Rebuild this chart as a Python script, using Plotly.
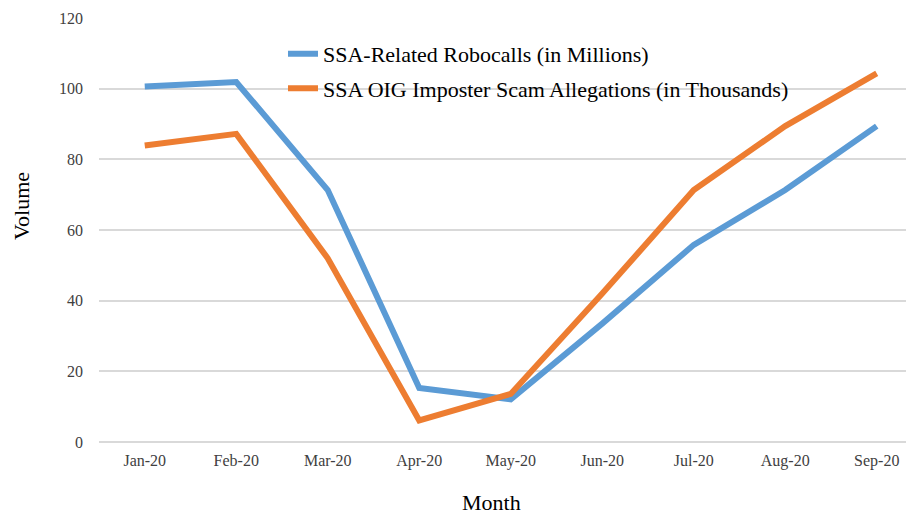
import plotly.graph_objects as go

months = ["Jan-20", "Feb-20", "Mar-20", "Apr-20", "May-20", "Jun-20", "Jul-20", "Aug-20", "Sep-20"]
robocalls = [100.6, 101.9, 71.3, 15.3, 12.1, 33.5, 55.8, 71.3, 89.4]
allegations = [83.9, 87.2, 52.0, 6.1, 13.6, 42.0, 71.3, 89.4, 104.3]
y_ticks = [0, 20, 40, 60, 80, 100, 120]

serif = "Liberation Serif, Times New Roman, serif"

fig = go.Figure()
fig.add_trace(go.Scatter(
    x=months, y=robocalls, mode="lines",
    name="SSA-Related Robocalls (in Millions)",
    line=dict(color="#5B9BD5", width=6),
    legendgroup="a",
))
fig.add_trace(go.Scatter(
    x=months, y=allegations, mode="lines",
    name="SSA OIG Imposter Scam Allegations (in Thousands)",
    line=dict(color="#ED7D31", width=6),
    legendgroup="b",
))

fig.update_layout(
    width=908, height=516,
    margin=dict(l=99, r=2, t=18, b=74),
    paper_bgcolor="white", plot_bgcolor="white",
    font=dict(family=serif, color="#000000"),
    showlegend=True,
    legend=dict(
        x=0.228, y=0.965, xanchor="left", yanchor="top",
        bgcolor="rgba(0,0,0,0)",
        font=dict(size=22, family=serif, color="#000000"),
        tracegroupgap=3,
        itemwidth=30,
    ),
    xaxis=dict(
        type="category",
        range=[-0.5, 8.32],
        showgrid=False, zeroline=False, showline=False,
        ticks="",
        ticklabelstandoff=7,
        tickfont=dict(size=16, family=serif, color="#404040"),
    ),
    yaxis=dict(
        range=[0, 120],
        tickvals=y_ticks,
        showgrid=True, gridcolor="#D9D9D9", gridwidth=1.5,
        zeroline=True, zerolinecolor="#D9D9D9", zerolinewidth=1.5,
        showline=False, ticks="",
        ticklabelstandoff=15,
        tickfont=dict(size=16, family=serif, color="#404040"),
    ),
    annotations=[
        dict(text="Month", xref="paper", yref="paper", x=0.4864, y=-0.143,
             xanchor="center", yanchor="middle", showarrow=False,
             font=dict(size=22, family=serif, color="#000000")),
        dict(text="Volume", xref="paper", yref="paper", x=-0.0967, y=0.5566,
             xanchor="center", yanchor="middle", showarrow=False, textangle=-90,
             font=dict(size=22, family=serif, color="#000000")),
    ],
)

fig.write_html("out.html", config={"displayModeBar": False},
               post_script="document.body.style.margin='0';")
